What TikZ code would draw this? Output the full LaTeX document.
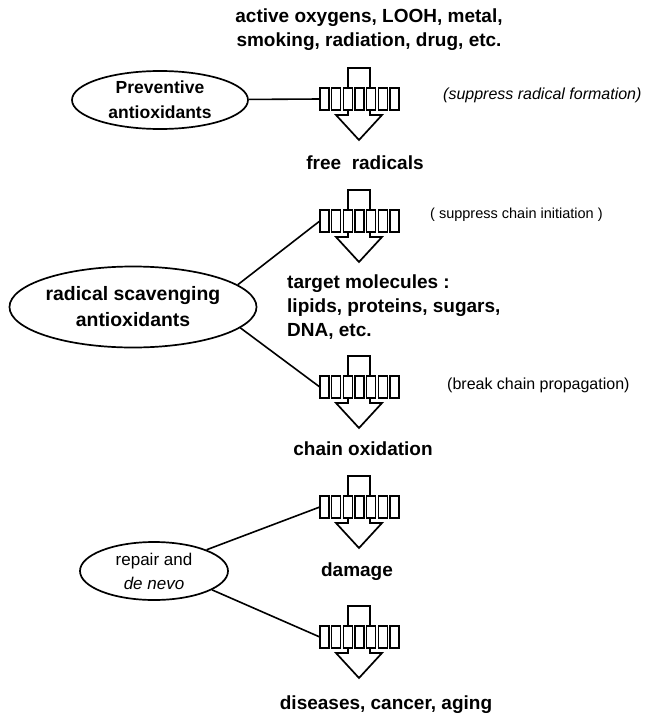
\documentclass[tikz,border=0pt]{standalone}
\usepackage{fontspec}
\setmainfont{Liberation Sans}
\usetikzlibrary{shapes.geometric}

% hollow down arrow with a blocking bar; #1 = bar name, #2 = top of bar
\newcommand{\blockarrow}[2]{%
  \draw[arr] (348,#2-20) -- (348,#2+27) -- (336,#2+27) -- (359,#2+52)
    -- (382,#2+27) -- (370,#2+27) -- (370,#2-20) -- cycle;
  \foreach \i in {0,...,6}
    \draw[blk] ({320+\i*11.67},#2) rectangle ++(9,22);
  \node[bar] (#1) at (359.5,#2+11) {};
}

\begin{document}
\begin{tikzpicture}[
    x=1pt, y=-1pt,
    bigtxt/.style={font=\fontsize{19}{24}\selectfont\bfseries, align=center, inner sep=0pt},
    sidetxt/.style={font=\fontsize{16}{20}\selectfont, anchor=west, inner sep=0pt},
    oval/.style={draw, ellipse, line width=1.7pt, inner sep=0pt, align=center},
    arr/.style={line width=1.7pt, line join=miter},
    blk/.style={draw, fill=white, line width=1.5pt},
    bar/.style={minimum width=79pt, minimum height=22pt, inner sep=0pt},
    link/.style={line width=1.6pt},
]
    \useasboundingbox (0,0) rectangle (666,717);

    % Arrows
    \blockarrow{bar1}{88}
    \blockarrow{bar2}{210}
    \blockarrow{bar3}{376}
    \blockarrow{bar4}{496}
    \blockarrow{bar5}{626}

    % Stages
    \node[bigtxt] (src) at (369,30) {active oxygens, LOOH, metal,\\smoking, radiation, drug, etc.};
    \node[bigtxt] (free) at (365,163) {free\ \ radicals};
    \node[bigtxt, anchor=west, align=left] (target) at (287,307) {target molecules :\\lipids, proteins, sugars,\\DNA, etc.};
    \node[bigtxt] (chain) at (363,449) {chain oxidation};
    \node[bigtxt] (damage) at (357,572) {damage};
    \node[bigtxt] (disease) at (386,705) {diseases, cancer, aging};

    % Antioxidants
    \node[oval, minimum width=176pt, minimum height=58pt, font=\fontsize{17.5}{25}\selectfont\bfseries] (prev) at (160,100) {Preventive\\antioxidants};
    \node[oval, minimum width=237pt, minimum height=81pt, font=\fontsize{19.4}{26}\selectfont\bfseries] (scav) at (133,307) {radical scavenging\\antioxidants};
    \node[oval, minimum width=148pt, minimum height=58pt, font=\fontsize{17}{24}\selectfont] (repair) at (154,571) {repair and\\\textit{de nevo}};

    % Modes of action
    \node[sidetxt, font=\fontsize{16}{20}\selectfont\itshape] (form) at (443,95) {(suppress radical formation)};
    \node[sidetxt, font=\fontsize{14.5}{18}\selectfont] (init) at (430,215) {( suppress chain initiation )};
    \node[sidetxt] (prop) at (447,385) {(break chain propagation)};

    % Links
    \draw[link] (prev) -- (bar1.west);
    \draw[link] (scav.12) -- (bar2.west);
    \draw[link] (scav.-11) -- (bar3.west);
    \draw[link] (repair.22) -- (bar4.west);
    \draw[link] (repair.-18) -- (bar5.west);
\end{tikzpicture}
\end{document}
